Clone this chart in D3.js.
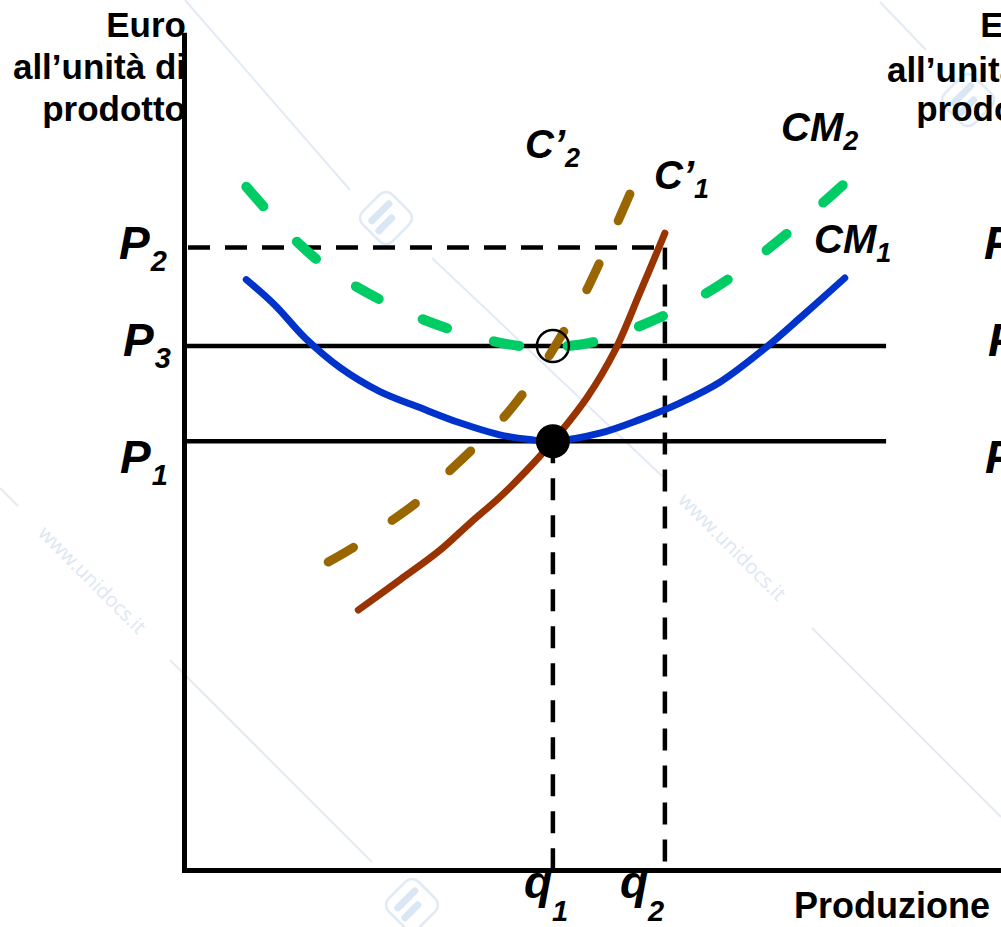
<!DOCTYPE html>
<html><head><meta charset="utf-8">
<script src="https://cdn.jsdelivr.net/npm/d3@7"></script>
<style>html,body{margin:0;padding:0;background:#fff;overflow:hidden}</style>
</head><body><svg id="c" width="1001" height="927"></svg>
<script>
// ---- data (quantity q, price p in arbitrary units) ----
const cm1Q = [0.89,1.3,1.73,2.23,2.8,3.37,3.94,4.51,4.94,5.27,5.94,6.51,7.09,7.66,8.34,8.8,9.44];
const cm1P = [7.38,7.06,6.65,6.28,5.98,5.78,5.59,5.44,5.38,5.36,5.46,5.63,5.84,6.1,6.55,6.9,7.4];
const c1Q  = [2.49,3.09,3.66,4.09,4.51,4.9,5.27,5.76,6.16,6.51,6.87];
const c1P  = [3.25,3.63,4.0,4.34,4.66,5.0,5.36,5.91,6.5,7.21,7.96];
const cm2Q = [0.89,1.51,2.09,2.8,3.51,4.23,4.8,5.27,5.8,6.37,7.09,7.8,8.51,9.09,9.41];
const cm2P = [8.54,7.94,7.5,7.13,6.85,6.65,6.55,6.54,6.59,6.75,7.03,7.4,7.88,8.31,8.56];
const c2Q  = [2.06,2.47,2.94,3.33,3.76,4.11,4.51,4.83,5.16,5.41,5.7,5.91,6.16,6.37];
const c2P  = [3.85,4.06,4.35,4.6,4.96,5.25,5.6,5.94,6.35,6.71,7.16,7.54,8.03,8.45];
const priceNames  = ["P","P","P"];
const priceSubs   = ["2","3","1"];
const priceValues = [7.78, 6.55, 5.36];
const qNames  = ["q","q"];
const qSubs   = ["1","2"];
const qValues = [5.27, 6.87];
const curveNames = ["C’","C’","CM","CM"];
const curveSubs  = ["2","1","2","1"];
const yAxisLines = ["Euro","all’unità di","prodotto"];
const xAxisTitle = "Produzione";
const wmText = "www.unidocs.it";

const svg = d3.select("#c");
const x = d3.scaleLinear().domain([0,10]).range([184,884]);
const y = d3.scaleLinear().domain([0,10]).range([870,70]);
const X_END = 11.67, Y_TOP = 10.44, H_END = 10.03;

// ---- watermark ----
const wm = svg.append("g").attr("class","wm");
const wmLines = [[185,0,350,190],[432,258,662,476],[812,628,1001,817],[0,488,18,506],[170,660,372,862],[880,2,926,50]];
wm.selectAll("line").data(wmLines).join("line")
  .attr("x1",d=>d[0]).attr("y1",d=>d[1]).attr("x2",d=>d[2]).attr("y2",d=>d[3])
  .attr("stroke","#e2ebf5").attr("stroke-width",2);
[[91,581],[731,548]].forEach(([cx,cy])=>{
  wm.append("text").attr("transform",`translate(${cx},${cy}) rotate(45)`)
    .attr("text-anchor","middle").attr("dominant-baseline","middle")
    .attr("font-family","Open Sans").attr("font-size",20).attr("fill","#dde7f2").text(wmText);
});
[[386,218],[412,905],[968,100]].forEach(([cx,cy])=>{
  const g = wm.append("g").attr("transform",`translate(${cx},${cy}) rotate(45)`);
  g.append("rect").attr("x",-21).attr("y",-21).attr("width",42).attr("height",42).attr("rx",9)
    .attr("fill","none").attr("stroke","#e0eaf4").attr("stroke-width",2.5);
  g.append("line").attr("x1",-8).attr("y1",-12).attr("x2",-8).attr("y2",12).attr("stroke","#d9e6f3").attr("stroke-width",7).attr("stroke-linecap","round");
  g.append("line").attr("x1",4).attr("y1",-4).attr("x2",4).attr("y2",14).attr("stroke","#d9e6f3").attr("stroke-width",7).attr("stroke-linecap","round");
});

// ---- reference lines ----
const ref = svg.append("g");
[1,2].forEach(i=>{
  ref.append("line").attr("x1",x(0)).attr("x2",x(H_END))
    .attr("y1",y(priceValues[i])).attr("y2",y(priceValues[i]))
    .attr("stroke","#000").attr("stroke-width",4.5);
});
ref.append("line").attr("x1",x(0)+4).attr("x2",x(qValues[1]))
  .attr("y1",y(priceValues[0])).attr("y2",y(priceValues[0]))
  .attr("stroke","#000").attr("stroke-width",4.5).attr("stroke-dasharray","22,15");
ref.append("line").attr("x1",x(qValues[1])).attr("x2",x(qValues[1]))
  .attr("y1",y(priceValues[0])).attr("y2",y(0))
  .attr("stroke","#000").attr("stroke-width",4.5).attr("stroke-dasharray","22,15");
ref.append("line").attr("x1",x(qValues[0])).attr("x2",x(qValues[0]))
  .attr("y1",y(priceValues[2])).attr("y2",y(0))
  .attr("stroke","#000").attr("stroke-width",4.5).attr("stroke-dasharray","22,15");

// ---- axes ----
const xa = d3.scaleLinear().domain([0,X_END]).range([x(0),x(X_END)]);
const ya = d3.scaleLinear().domain([0,Y_TOP]).range([y(0),y(Y_TOP)]);
const gx = svg.append("g").attr("transform",`translate(0,${y(0)})`)
  .call(d3.axisBottom(xa).tickValues([]).tickSizeOuter(0));
const gy = svg.append("g").attr("transform",`translate(${x(0)},0)`)
  .call(d3.axisLeft(ya).tickValues([]).tickSizeOuter(0));
[gx,gy].forEach(g=>g.select(".domain").attr("stroke","#000").attr("stroke-width",5).attr("stroke-linecap","square"));

// ---- curves ----
const line = d3.line().x(d=>x(d[0])).y(d=>y(d[1])).curve(d3.curveCatmullRom.alpha(0.5));
const zip = (a,b)=>a.map((v,i)=>[v,b[i]]);
const curves = [
  {pts: zip(cm2Q,cm2P), color:"#00cc66", w:10, dash:26, n:10},
  {pts: zip(c2Q,c2P),   color:"#996600", w:9,  dash:29, n:7},
  {pts: zip(cm1Q,cm1P), color:"#0033cc", w:7,  dash:0,  n:0},
  {pts: zip(c1Q,c1P),   color:"#993300", w:7,  dash:0,  n:0},
];
svg.append("g").selectAll("path").data(curves).join("path")
  .attr("d",d=>line(d.pts)).attr("fill","none")
  .attr("stroke",d=>d.color).attr("stroke-width",d=>d.w)
  .attr("stroke-linecap","round").attr("stroke-linejoin","round")
  .each(function(d){
    if(!d.n) return;
    const L = this.getTotalLength();
    const period = (L - d.dash)/(d.n-1);
    d3.select(this).attr("stroke-dasharray",`${d.dash},${period-d.dash}`);
  });

// ---- equilibrium points ----
svg.append("circle").attr("cx",x(qValues[0])).attr("cy",y(priceValues[2])).attr("r",17).attr("fill","#000");
svg.append("circle").attr("cx",x(qValues[0])).attr("cy",y(priceValues[1])).attr("r",16)
  .attr("fill","none").attr("stroke","#000").attr("stroke-width",2.5);

// ---- labels ----
const F = "'Liberation Sans', Arial, sans-serif";
function subLabel(px,py,main,sub,size,subSize,dx,dy){
  const t = svg.append("text").attr("x",px).attr("y",py)
    .attr("font-family",F).attr("font-weight","bold").attr("font-style","italic")
    .attr("font-size",size).attr("fill","#000");
  t.append("tspan").text(main);
  t.append("tspan").attr("dx",dx).attr("dy",dy).attr("font-size",subSize).text(sub);
  return t;
}
const pOff = [[119,11],[123,10],[120,32]];
priceValues.forEach((v,i)=>{
  subLabel(pOff[i][0], y(v)+pOff[i][1], priceNames[i], priceSubs[i], 46, 29, 1, 12);
  subLabel(pOff[i][0]+865, y(v)+pOff[i][1], priceNames[i], priceSubs[i], 46, 29, 1, 12);
});
const qOff = [-29,-45];
qValues.forEach((v,i)=>{
  subLabel(x(v)+qOff[i], 898, qNames[i], qSubs[i], 46, 29, 0, 23);
});
const curveLabelPos = [[525,158],[654,189],[781,141],[814,253]];
curveNames.forEach((n,i)=>{
  subLabel(curveLabelPos[i][0], curveLabelPos[i][1], n, curveSubs[i], 40, 27, 0, 9);
});
const yt = svg.append("g");
yAxisLines.forEach((s,i)=>{
  yt.append("text").attr("x",186).attr("y",37+i*42).attr("text-anchor","end")
    .attr("font-family",F).attr("font-weight","bold").attr("font-size",35).attr("fill","#000").text(s);
  yt.append("text").attr("x",1060).attr("y",37+i*42+(i===1?3:0)).attr("text-anchor","end")
    .attr("font-family",F).attr("font-weight","bold").attr("font-size",35).attr("fill","#000").text(s);
});
svg.append("text").attr("x",794).attr("y",918)
  .attr("font-family",F).attr("font-weight","bold").attr("font-size",36).attr("fill","#000").text(xAxisTitle);
</script></body></html>
